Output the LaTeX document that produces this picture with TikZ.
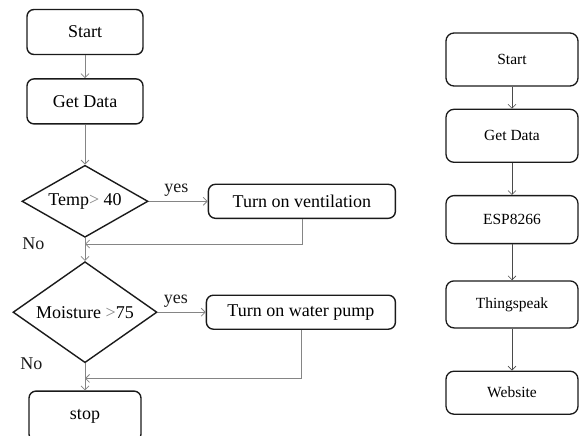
\documentclass[tikz,border=0pt]{standalone}
\usepackage{fontspec}
\setmainfont{Liberation Serif}
\usetikzlibrary{arrows.meta,positioning,shapes.geometric}
\definecolor{Ink}{HTML}{1A1A1A}
\definecolor{Wire}{HTML}{858585}
\definecolor{DarkWire}{HTML}{4A4A4A}
\tikzset{
  flow/.style={draw=Ink,line width=1.4pt,rounded corners=7pt,minimum width=116pt,minimum height=45pt,
    align=center,font=\fontsize{18}{20}\selectfont},
  flowwide/.style={flow,minimum width=187pt,minimum height=34pt},
  flowsmall/.style={flow,line width=1.3pt,minimum width=132pt,rounded corners=8pt,font=\fontsize{15.5}{18}\selectfont},
  decision/.style={diamond,draw=Ink,line width=1.4pt,inner sep=0pt,font=\fontsize{18}{20}\selectfont},
  tag/.style={font=\fontsize{18}{20}\selectfont,text=Ink},
  arrow/.style={-{Straight Barb[length=4pt,width=8pt]},line width=0.8pt,color=Wire},
  darkarrow/.style={arrow,line width=0.6pt,color=DarkWire}
}
\begin{document}
\begin{tikzpicture}[x=1pt,y=-1pt]
  \useasboundingbox (0,0) rectangle (582,436);
  % sensor loop
  \node[flow] (start) at (85,32) {Start};
  \node[flow,below=23pt of start] (get) {Get Data};
  \node[decision,aspect=1.75,minimum width=126pt,minimum height=72pt,below=40pt of get] (temp) {Temp\textcolor{Wire}{>} 40};
  \node[decision,aspect=1.43,minimum width=144pt,minimum height=101pt,below=23pt of temp] (moist) {Moisture \textcolor{Wire}{>}75};
  \node[flow,minimum width=112pt,minimum height=50pt,below=27pt of moist] (stop) {stop};
  \node[flowwide,right=59pt of temp] (vent) {Turn on ventilation};
  \node[flowwide,minimum width=189pt,right=48pt of moist] (pump) {Turn on water pump};
  \coordinate[below=6pt of temp.south] (join1);
  \coordinate[below=15pt of moist.south] (join2);
  \draw[arrow] (start) -- (get);
  \draw[arrow] (get) -- (temp);
  \draw[arrow] (temp) -- (moist);
  \draw[arrow] (moist) -- (stop);
  \draw[arrow] (temp) -- node[tag,above=1pt,pos=0.47] (yes1) {yes} (vent);
  \draw[arrow] (moist) -- node[tag,above=1pt,pos=0.38] (yes2) {yes} (pump);
  \draw[arrow] (vent) |- (join1);
  \draw[arrow] (pump) |- (join2);
  \node[tag,left=37pt of join1] (no1) {No};
  \node[tag,left=39pt of moist.south] (no2) {No};

  % upload chain
  \node[flowsmall,minimum height=53pt] (start2) at (512,59.5) {Start};
  \node[flowsmall,minimum height=53pt,below=22pt of start2] (get2) {Get Data};
  \node[flowsmall,minimum height=48pt,below=32pt of get2] (esp) {ESP8266};
  \node[flowsmall,minimum height=47pt,below=36pt of esp] (thing) {Thingspeak};
  \node[flowsmall,minimum height=43pt,below=42pt of thing] (web) {Website};
  \draw[darkarrow] (start2) -- (get2);
  \draw[darkarrow] (get2) -- (esp);
  \draw[darkarrow] (esp) -- (thing);
  \draw[darkarrow] (thing) -- (web);
\end{tikzpicture}
\end{document}
